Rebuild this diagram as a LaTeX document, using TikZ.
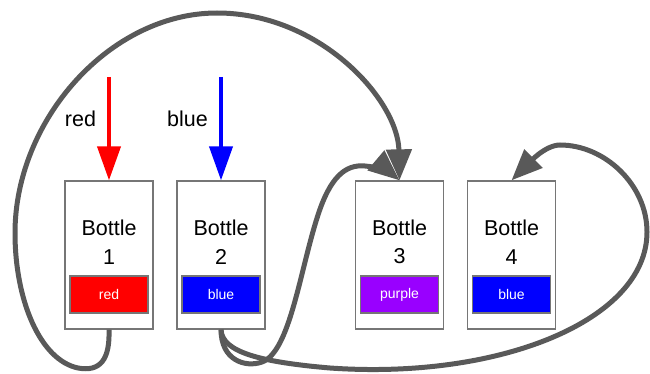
\documentclass[tikz,border=0pt]{standalone}
\usepackage{fontspec}
\setmainfont{Liberation Sans}
\usetikzlibrary{arrows.meta}
\definecolor{linkgray}{HTML}{595959}
\definecolor{framegray}{HTML}{767676}
\definecolor{pureblue}{HTML}{0000FF}
\definecolor{purered}{HTML}{FF0000}
\definecolor{purplefill}{HTML}{9900FF}
\tikzset{
  bottle/.style={draw=framegray, line width=1.3pt, fill=white, minimum width=88pt, minimum height=148pt, inner sep=0pt},
  bottletext/.style={align=center, inner sep=0pt, font=\fontsize{21.5}{28.5}\selectfont},
  swatch/.style={draw=framegray, line width=1.2pt, minimum width=78pt, minimum height=37pt, inner sep=0pt, text=white, font=\fontsize{14}{16}\selectfont},
  pourlabel/.style={inner sep=0pt, font=\fontsize{21.5}{26}\selectfont},
  pour/.style={line width=4pt, -{Triangle[length=34pt, width=23pt]}},
  transfer/.style={draw=linkgray, line width=5pt, -{Triangle[length=31pt, width=25pt]}}
}
\begin{document}
\begin{tikzpicture}[x=1pt, y=-1pt]
\useasboundingbox (0,0) rectangle (650,374);

% bottles
\node[bottle] (b1) at (109,255) {};
\node[bottle] (b2) at (221,255) {};
\node[bottle] (b3) at (399.5,255) {};
\node[bottle] (b4) at (511.5,255) {};

\node[bottletext] (t1) at (109,242) {Bottle\\1};
\node[bottletext] (t2) at (221,242) {Bottle\\2};
\node[bottletext] (t3) at (399.5,242) {Bottle\\3};
\node[bottletext] (t4) at (511.5,242) {Bottle\\4};

\node[swatch, fill=purered] (s1) at (109,294.5) {red};
\node[swatch, fill=pureblue] (s2) at (221,294.5) {blue};
\node[swatch, fill=purplefill] (s3) at (399.5,294.5) {purple};
\node[swatch, fill=pureblue] (s4) at (511.5,294.5) {blue};

% pouring arrows
\coordinate (r0) at (109,77);
\coordinate (u0) at (221,77);
\draw[pour, draw=purered] (r0) -- (b1.north);
\draw[pour, draw=pureblue] (u0) -- (b2.north);
\node[pourlabel] (lr) at (80.5,119) {red};
\node[pourlabel] (lb) at (187.5,119) {blue};

% bottle 1 -> bottle 3, around the top
\draw[transfer] (b1.south)
  .. controls (110,360) and (100,372) .. (78,368)
  .. controls (40,360) and (15,300) .. (15,233)
  .. controls (15,120) and (110,13) .. (217,13)
  .. controls (320,13) and (398,100) .. (b3.north);

% bottle 2 -> bottle 3
\draw[transfer] (b2.south)
  .. controls (221,360) and (245,368) .. (262,362)
  .. controls (290,352) and (300,270) .. (318,215)
  .. controls (330,178) and (345,164) .. (365,166)
  .. controls (380,167) and (392,174) .. (b3.north);

% bottle 2 -> bottle 4, around the right
\draw[transfer] (b2.south)
  .. controls (222,352) and (260,362) .. (330,368)
  .. controls (500,380) and (647,320) .. (647,232)
  .. controls (647,185) and (605,145) .. (560,145)
  .. controls (545,145) and (528,164) .. (b4.north);
\end{tikzpicture}
\end{document}
